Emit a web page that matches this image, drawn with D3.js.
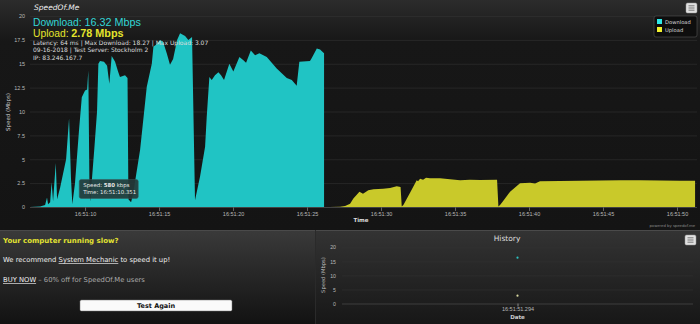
<!DOCTYPE html>
<html>
<head>
<meta charset="utf-8">
<script src="https://cdn.jsdelivr.net/npm/d3@7/dist/d3.min.js"></script>
<style>
  body { margin: 0; background: #111; overflow: hidden; }
  svg { display: block; font-family: "DejaVu Sans", sans-serif; }
  .axis text { fill: #b8b8b8; }
  .axis path { display: none; }
</style>
</head>
<body>
<svg id="chart" width="700" height="324"></svg>
<script>
// seconds after 16:51:00 on 16 Sep 2018
var dlTime = [6.28, 6.96, 7.30, 7.43, 7.50, 7.64, 7.74, 7.84, 8.02, 8.11, 8.31, 8.72, 8.92, 9.05, 9.14, 9.32, 9.59, 9.78, 10.0, 10.14, 10.22, 10.30, 10.351, 10.47, 10.62, 10.81, 10.9,
  11.01, 11.28, 11.49, 11.64, 11.80, 12.03, 12.23, 12.36, 12.70, 12.87, 12.93, 13.11, 13.26, 13.72, 14.17, 14.51, 14.62, 14.80, 15.07, 15.27, 15.52, 15.74, 15.95, 16.22, 16.42, 16.76, 16.98, 17.23, 17.43,
  17.77, 18.11, 18.22, 18.40, 18.56, 18.78, 19.01, 19.19, 19.39, 19.75, 20.02, 20.43, 20.68, 20.88, 21.20, 21.49, 21.78, 22.28, 22.95, 23.63, 23.97, 24.30, 24.48, 25.20, 25.32, 25.66, 25.88, 26.15];
var dlSpeed = [0, 0.05, 0.2, 1.0, 0.3, 0.5, 2.6, 0.6, 4.6, 0.8, 2.0, 5.0, 9.3, 3.0, 0.3, 2.5, 8.0, 11.5, 12.2, 12.3, 14.3, 2.0, 0.58, 3.0, 6.0, 10.0, 15.0,
  15.3, 15.2, 14.8, 12.9, 15.8, 15.2, 14.2, 13.6, 13.8, 13.5, 0.8, 0.5, 1.5, 6.0, 12.6, 15.0, 16.8, 17.0, 17.5, 17.3, 16.1, 14.9, 15.5, 17.5, 18.2, 17.9, 17.5, 17.8, 0.7,
  3.2, 6.3, 9.4, 13.6, 13.3, 13.8, 14.1, 13.8, 13.3, 15.0, 14.2, 15.7, 15.4, 15.1, 16.4, 15.9, 16.1, 15.7, 14.5, 13.5, 13.3, 12.7, 15.2, 15.3, 15.6, 16.6, 16.5, 16.1];

var ulTime = [26.55, 27.23, 27.57, 27.91, 28.13, 28.54, 28.78, 29.14, 29.49, 30.14, 30.61, 31.06, 31.32, 31.40, 31.51, 31.96, 32.41, 32.5, 32.64, 32.84, 33.04, 33.31, 33.99, 34.66, 35.34, 36.01, 36.69, 37.84, 37.93,
  38.04, 38.24, 38.72, 39.39, 40.07, 40.41, 40.74, 42.09, 43.45, 44.80, 46.15, 47.50, 48.85, 50.20, 51.22];
var ulSpeed = [0, 0.03, 0.1, 0.35, 0.9, 1.6, 1.4, 1.75, 1.85, 1.9, 2.0, 2.17, 2.1, 0.05, 0.2, 1.5, 2.8, 2.7, 2.95, 2.85, 3.07, 3.0, 3.0, 2.9, 2.8, 2.85, 2.82, 2.85, 0.05,
  0.2, 0.6, 1.6, 2.5, 2.55, 2.45, 2.7, 2.72, 2.75, 2.78, 2.8, 2.8, 2.78, 2.76, 2.75];

var yTicks = [0, 2.5, 5, 7.5, 10, 12.5, 15, 17.5, 20];
var infoLines = ["Latency: 64 ms | Max Download: 18.27 | Max Upload: 3.07", "09-16-2018 | Test Server: Stockholm 2", "IP: 83.246.167.7"];
var legendNames = ["Download", "Upload"];
var seriesColors = ["#20c4c4", "#c9c92a"];
var legendColors = ["#2ee8e8", "#f2f22e"];

var histDates = [51.294];
var histDown = [16.32];
var histUp = [2.78];
var histTicks = [0, 5, 10, 15, 20];

var base = new Date(2018, 8, 16, 16, 51, 0).getTime();
var t = function(s) { return new Date(base + s * 1000); };

var svg = d3.select('#chart');
var defs = svg.append('defs');

var g1 = defs.append('linearGradient').attr('id', 'topbg').attr('x1', 0).attr('y1', 0).attr('x2', 0).attr('y2', 1);
g1.append('stop').attr('offset', '0').attr('stop-color', '#2c2c2c');
g1.append('stop').attr('offset', '0.18').attr('stop-color', '#171717');
g1.append('stop').attr('offset', '1').attr('stop-color', '#141414');

var g2 = defs.append('linearGradient').attr('id', 'botbg').attr('x1', 0).attr('y1', 0).attr('x2', 0).attr('y2', 1);
g2.append('stop').attr('offset', '0').attr('stop-color', '#3a3a3a');
g2.append('stop').attr('offset', '1').attr('stop-color', '#121212');

var g3 = defs.append('linearGradient').attr('id', 'histbg').attr('x1', 0).attr('y1', 0).attr('x2', 0).attr('y2', 1);
g3.append('stop').attr('offset', '0').attr('stop-color', '#333');
g3.append('stop').attr('offset', '1').attr('stop-color', '#171717');

svg.append('rect').attr('width', 700).attr('height', 230).attr('fill', 'url(#topbg)');
svg.append('rect').attr('y', 230).attr('width', 315).attr('height', 94).attr('fill', 'url(#botbg)');
svg.append('rect').attr('x', 315).attr('y', 230).attr('width', 385).attr('height', 94).attr('fill', 'url(#histbg)');
svg.append('line').attr('x1', 0).attr('x2', 700).attr('y1', 230.5).attr('y2', 230.5).attr('stroke', '#4a4a4a');
svg.append('line').attr('x1', 315.5).attr('x2', 315.5).attr('y1', 230).attr('y2', 324).attr('stroke', '#2a2a2a');

// ---- main chart
var plotL = 30, plotR = 697, plotT = 16, plotB = 207;
var x = d3.scaleTime().domain([t(6.28), t(51.35)]).range([plotL, plotR]);
var y = d3.scaleLinear().domain([0, 20]).range([plotB, plotT]);

var yAxis = d3.axisLeft(y).tickValues(yTicks).tickSize(-(plotR - plotL)).tickPadding(5).tickFormat(d => d);
var gy = svg.append('g').attr('class', 'axis').attr('transform', `translate(${plotL},0)`).call(yAxis);
gy.selectAll('line').attr('stroke', '#333').attr('stroke-width', 0.6);
gy.selectAll('text').attr('font-size', 5.5);

var xAxis = d3.axisBottom(x).ticks(d3.timeSecond.every(5)).tickSize(4).tickPadding(1).tickFormat(d3.timeFormat('%H:%M:%S'));
var gx = svg.append('g').attr('class', 'axis').attr('transform', `translate(0,${plotB})`).call(xAxis);
gx.selectAll('line').attr('stroke', '#666');
gx.selectAll('text').attr('font-size', 5.5).attr('fill', '#c8c8c8');

var dlData = dlTime.map((d, i) => ({ t: t(d), v: dlSpeed[i] }));
var ulData = ulTime.map((d, i) => ({ t: t(d), v: ulSpeed[i] }));
var area = d3.area().x(d => x(d.t)).y0(y(0)).y1(d => y(d.v));

svg.append('path').datum(dlData).attr('d', area).attr('fill', seriesColors[0]);
svg.append('path').datum(ulData).attr('d', area).attr('fill', seriesColors[1]);
svg.append('line').attr('x1', plotL).attr('x2', plotR).attr('y1', plotB + 0.5).attr('y2', plotB + 0.5).attr('stroke', '#555').attr('stroke-width', 0.6);

// titles
svg.append('text').attr('x', 10).attr('y', 112).attr('transform', 'rotate(-90,10,112)')
  .attr('text-anchor', 'middle').attr('font-size', 5.5).attr('fill', '#ccc').text('Speed (Mbps)');
svg.append('text').attr('x', 361).attr('y', 222).attr('text-anchor', 'middle')
  .attr('font-size', 5.5).attr('font-weight', 'bold').attr('fill', '#ddd').text('Time');
svg.append('text').attr('x', 695).attr('y', 227).attr('text-anchor', 'end')
  .attr('font-size', 3.8).attr('fill', '#888').text('powered by speedof.me');

svg.append('text').attr('x', 34).attr('y', 10).attr('font-size', 7.5).attr('font-style', 'italic')
  .attr('fill', '#eee').text('SpeedOf.Me');

var dlText = svg.append('text').attr('x', 33).attr('y', 25.5).attr('font-family', '"Liberation Sans", sans-serif').attr('font-size', 10.3).attr('fill', '#33d6d6');
dlText.append('tspan').text('Download: ');
dlText.append('tspan').attr('font-size', 10.8).text('16.32 Mbps');
var ulText = svg.append('text').attr('x', 33).attr('y', 36.5).attr('font-family', '"Liberation Sans", sans-serif').attr('font-size', 10.3).attr('fill', '#e4e42c');
ulText.append('tspan').text('Upload: ');
ulText.append('tspan').attr('font-size', 10.8).attr('font-weight', 'bold').text('2.78 Mbps');

svg.selectAll('.info').data(infoLines).join('text').attr('class', 'info')
  .attr('x', 33).attr('y', (d, i) => 44.8 + i * 7.6).attr('font-size', 6).attr('fill', '#ddd').text(d => d);

// legend
var lg = svg.append('g').attr('transform', 'translate(654,16)');
lg.append('rect').attr('width', 43).attr('height', 21).attr('rx', 2).attr('fill', '#0e0e0e').attr('stroke', '#555').attr('stroke-width', 0.6);
var li = lg.selectAll('g').data(legendNames).join('g').attr('transform', (d, i) => `translate(3,${3 + i * 8})`);
li.append('rect').attr('width', 5).attr('height', 5).attr('fill', (d, i) => legendColors[i]);
li.append('text').attr('x', 8).attr('y', 4.6).attr('font-size', 5.2).attr('fill', '#ddd').text(d => d);

// menu buttons
function menu(xx, yy) {
  var m = svg.append('g').attr('transform', `translate(${xx},${yy})`);
  m.append('rect').attr('width', 11).attr('height', 10).attr('rx', 1.5).attr('fill', '#e0e0e0').attr('stroke', '#999').attr('stroke-width', 0.5);
  [2.8, 5, 7.2].forEach(v => m.append('line').attr('x1', 2.5).attr('x2', 8.5).attr('y1', v).attr('y2', v).attr('stroke', '#777').attr('stroke-width', 1));
}
menu(686, 3);
menu(685, 235);

// tooltip
var tipT = t(10.351), tipV = 0.58;
var px = x(tipT), py = y(tipV);
var tip = svg.append('g').attr('transform', `translate(${px - 11},${py - 22})`);
tip.append('rect').attr('width', 59).attr('height', 19).attr('rx', 2).attr('fill', '#24393a').attr('fill-opacity', 0.92).attr('stroke', '#3d5656').attr('stroke-width', 0.5);
var tt1 = tip.append('text').attr('x', 4).attr('y', 8).attr('font-size', 5.4).attr('fill', '#e8e8e8');
tt1.append('tspan').text('Speed: ');
tt1.append('tspan').attr('font-weight', 'bold').text(Math.round(tipV * 1000));
tt1.append('tspan').text(' kbps');
tip.append('text').attr('x', 4).attr('y', 15).attr('font-size', 5.4).attr('fill', '#e8e8e8')
  .text('Time: ' + d3.timeFormat('%H:%M:%S.%L')(tipT));

// ---- bottom left promo
svg.append('text').attr('x', 3).attr('y', 243).attr('font-size', 7).attr('font-weight', 'bold').attr('fill', '#e3e332').text('Your computer running slow?');
var p1 = svg.append('text').attr('x', 3).attr('y', 262).attr('font-size', 6.8).attr('fill', '#eee');
p1.append('tspan').text('We recommend ');
p1.append('tspan').attr('text-decoration', 'underline').text('System Mechanic');
p1.append('tspan').text(' to speed it up!');
var p2 = svg.append('text').attr('x', 3).attr('y', 282).attr('font-size', 6.8).attr('fill', '#aaa');
p2.append('tspan').attr('fill', '#eee').attr('text-decoration', 'underline').text('BUY NOW');
p2.append('tspan').text(' \u2013 60% off for SpeedOf.Me users');
svg.append('rect').attr('x', 80).attr('y', 300).attr('width', 152).attr('height', 11).attr('rx', 1.5).attr('fill', '#fafafa').attr('stroke', '#777').attr('stroke-width', 0.5);
svg.append('text').attr('x', 156).attr('y', 308.3).attr('text-anchor', 'middle').attr('font-size', 6.5).attr('font-weight', 'bold').attr('fill', '#111').text('Test Again');

// ---- history chart
var hLeft = 342, hRight = 693;
var hx = d3.scaleTime().domain([t(histDates[0] - 1), t(histDates[0] + 1)]).range([hLeft, hRight]);
var hy = d3.scaleLinear().domain([0, 20]).range([303.5, 247.3]);

svg.append('text').attr('x', 507).attr('y', 241).attr('text-anchor', 'middle').attr('font-size', 7.5).attr('fill', '#ddd').text('History');

var hyAxis = d3.axisLeft(hy).tickValues(histTicks).tickSize(-(hRight - hLeft)).tickPadding(6);
var hgy = svg.append('g').attr('class', 'axis').attr('transform', `translate(${hLeft},0)`).call(hyAxis);
hgy.selectAll('line').attr('stroke', (d) => d === 0 ? '#555' : '#333').attr('stroke-width', 0.6);
hgy.selectAll('text').attr('font-size', 5.2).attr('fill', '#999');

var hxAxis = d3.axisBottom(hx).tickValues(histDates.map(t)).tickSize(3).tickPadding(1).tickFormat(d3.timeFormat('%H:%M:%S.%L'));
var hgx = svg.append('g').attr('class', 'axis').attr('transform', 'translate(0,303.5)').call(hxAxis);
hgx.selectAll('line').attr('stroke', '#888');
hgx.selectAll('text').attr('font-size', 5.5).attr('fill', '#ccc');

svg.append('text').attr('x', 325).attr('y', 275).attr('transform', 'rotate(-90,325,275)')
  .attr('text-anchor', 'middle').attr('font-size', 5.2).attr('fill', '#bbb').text('Speed (Mbps)');
svg.append('text').attr('x', 517.5).attr('y', 319).attr('text-anchor', 'middle')
  .attr('font-size', 5.5).attr('font-weight', 'bold').attr('fill', '#ccc').text('Date');

svg.selectAll('.hd').data(histDown).join('circle').attr('class', 'hd')
  .attr('cx', (d, i) => hx(t(histDates[i]))).attr('cy', d => hy(d)).attr('r', 1.1).attr('fill', '#2cc0c0');
svg.selectAll('.hu').data(histUp).join('circle').attr('class', 'hu')
  .attr('cx', (d, i) => hx(t(histDates[i]))).attr('cy', d => hy(d)).attr('r', 1.1).attr('fill', '#d8d8a0');
</script>
</body>
</html>
